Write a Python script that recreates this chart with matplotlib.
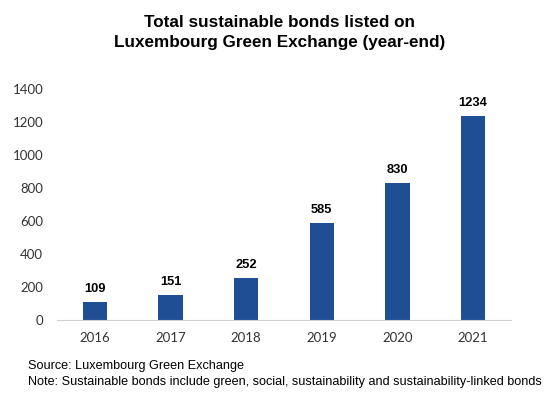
import matplotlib
matplotlib.use("Agg")
import matplotlib.pyplot as plt

years = ["2016", "2017", "2018", "2019", "2020", "2021"]
bonds = [109, 151, 252, 585, 830, 1234]
yticks = [0, 200, 400, 600, 800, 1000, 1200, 1400]

plt.rcParams['font.family'] = ['Liberation Sans', 'DejaVu Sans']

fig = plt.figure(figsize=(5.6, 4.01), dpi=100)
ax = fig.add_axes([57 / 560, 81 / 401, 454 / 560, 231 / 401])

x = range(len(years))
bars = ax.bar(x, bonds, width=0.32, color="#1f4e94")
for xi, v in zip(x, bonds):
    ax.text(xi, v + 45, str(v), ha="center", va="bottom",
            fontsize=9.3, fontweight="bold", color="black")

ax.set_xlim(-0.5, len(years) - 0.5)
ax.set_ylim(0, 1400)
ax.set_xticks(list(x))
ax.set_xticklabels(years, fontsize=9.5, color="#333333", family=["Lato", "DejaVu Sans"])
ax.set_yticks(yticks)
ax.set_yticklabels([str(t) for t in yticks], fontsize=9.5, color="#333333",
                   family=["Lato", "DejaVu Sans"])
ax.tick_params(length=0, pad=9)
ax.tick_params(axis="y", pad=10)
for s in ["top", "right", "left"]:
    ax.spines[s].set_visible(False)
ax.spines["bottom"].set_color("#d0d0d0")

fig.text(0.5, 1 - 15 / 401, "Total sustainable bonds listed on\nLuxembourg Green Exchange (year-end)",
         ha="center", va="top", fontsize=12.3, fontweight="bold", linespacing=1.45)
fig.text(28 / 560, 1 - 366 / 401, "Source: Luxembourg Green Exchange",
         ha="left", va="center", fontsize=9.1)
fig.text(28 / 560, 1 - 382 / 401,
         "Note: Sustainable bonds include green, social, sustainability and sustainability-linked bonds",
         ha="left", va="center", fontsize=9.1)

fig.savefig("out.png", dpi=100)
